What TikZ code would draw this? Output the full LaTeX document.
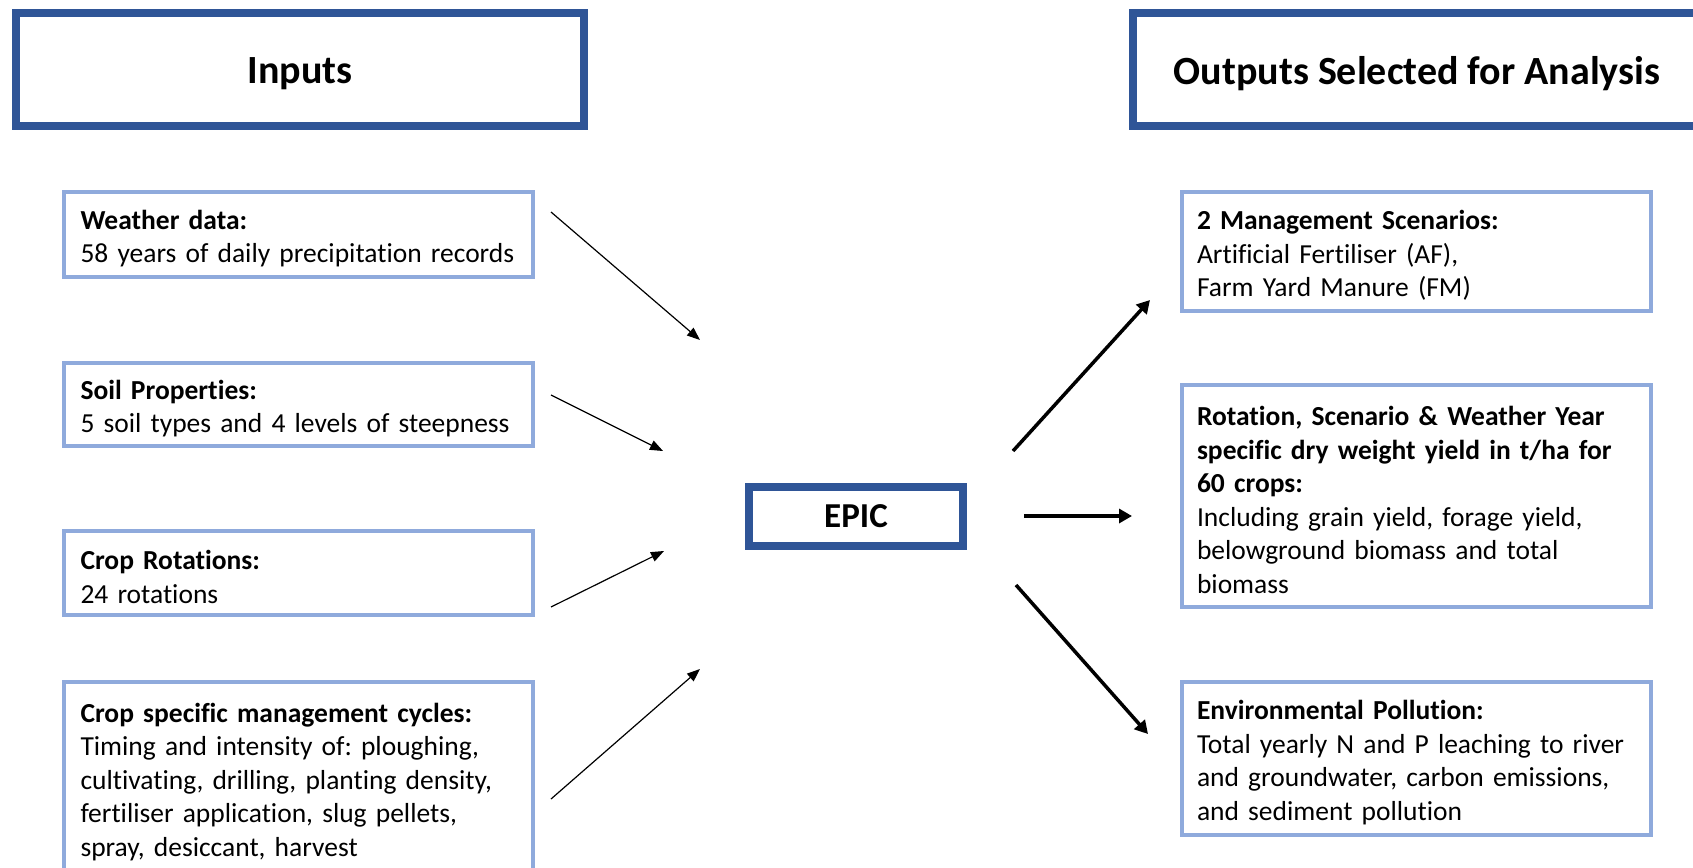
\documentclass[tikz,border=0pt]{standalone}
\usepackage{fontspec}
\setmainfont[Ligatures={NoCommon}]{Carlito}
\frenchspacing
\usetikzlibrary{arrows.meta}
\definecolor{darkblue}{HTML}{2F5597}
\definecolor{lightblue}{HTML}{8FAADC}
\newcommand\mytopstr{\rule{0pt}{27pt}}
\newcommand\mydown[1]{\raisebox{-4pt}[\height][\depth]{#1}}
\begin{document}
\begin{tikzpicture}[x=1pt,y=-1pt,
  header/.style={draw=darkblue, fill=white, line width=8pt, minimum width=568pt, minimum height=113pt, inner sep=0pt, font=\fontsize{40}{48}\selectfont\bfseries},
  epicbox/.style={draw=darkblue, fill=white, line width=8pt, minimum width=214pt, minimum height=59pt, inner sep=0pt, font=\fontsize{35}{42}\selectfont\bfseries},
  inbox/.style={draw=lightblue, fill=white, line width=3.5pt, text width=436pt, inner xsep=16.5pt, inner ysep=0pt, align=left, font=\fontsize{27.5}{33.5}\selectfont},
  outbox/.style={draw=lightblue, fill=white, line width=3.5pt, text width=439pt, inner xsep=15pt, inner ysep=0pt, align=left, font=\fontsize{27.5}{33.5}\selectfont},
  thinarrow/.style={draw=black, line width=1.2pt, -{Triangle[length=13pt,width=10pt]}},
  thickarrow/.style={draw=black, line width=3.5pt, -{Triangle[length=13pt,width=14pt]}}
]
\useasboundingbox (0,0) rectangle (1693,867);

% headers
\node[header] (inputs) at (300,69.5) {\mydown{Inputs}};
\node[header] (outputs) at (1417,69.5) {\mydown{Outputs Selected for Analysis}};

% input boxes
\node[inbox, minimum height=85pt] (weather) at (298.5,234.5) {\mytopstr\textbf{Weather data:}\\58 years of daily precipitation records};
\node[inbox, minimum height=83pt] (soil) at (298.5,404.5) {\mytopstr\textbf{Soil Properties:}\\5 soil types and 4 levels of steepness};
\node[inbox, minimum height=84pt] (rot) at (298.5,573) {\mytopstr\textbf{Crop Rotations:}\\24 rotations};
\node[inbox, minimum height=192pt] (mgmt) at (298.5,778) {\mytopstr\textbf{Crop specific management cycles:}\\Timing and intensity of: ploughing,\\cultivating, drilling, planting density,\\fertiliser application, slug pellets,\\spray, desiccant, harvest};

% EPIC
\node[epicbox] (epic) at (856,516.5) {EPIC};

% output boxes
\node[outbox, minimum height=119pt] (scen) at (1416.5,251.5) {\mytopstr\textbf{2 Management Scenarios:}\\Artificial Fertiliser (AF),\\Farm Yard Manure (FM)};
\node[outbox, minimum height=222pt] (yield) at (1416.5,496) {\mytopstr\textbf{Rotation, Scenario \& Weather Year}\\\textbf{specific dry weight yield in t/ha for}\\\textbf{60 crops:}\\Including grain yield, forage yield,\\belowground biomass and total\\biomass};
\node[outbox, minimum height=153pt] (env) at (1416.5,758.5) {\mytopstr\textbf{Environmental Pollution:}\\Total yearly N and P leaching to river\\and groundwater, carbon emissions,\\and sediment pollution};

% arrow end points
\coordinate (w1) at (551,212);  \coordinate (w2) at (700,340);
\coordinate (s1) at (551,395);  \coordinate (s2) at (663,451);
\coordinate (r1) at (551,607);  \coordinate (r2) at (664,551);
\coordinate (m1) at (551,799);  \coordinate (m2) at (700,669);
\coordinate (o1a) at (1013,451); \coordinate (o1b) at (1150,300);
\coordinate (o2a) at (1024,516); \coordinate (o2b) at (1132,516);
\coordinate (o3a) at (1016,585); \coordinate (o3b) at (1148,734);

\draw[thinarrow] (w1) -- (w2);
\draw[thinarrow] (s1) -- (s2);
\draw[thinarrow] (r1) -- (r2);
\draw[thinarrow] (m1) -- (m2);
\draw[thickarrow] (o1a) -- (o1b);
\draw[thickarrow] (o2a) -- (o2b);
\draw[thickarrow] (o3a) -- (o3b);
\end{tikzpicture}
\end{document}
